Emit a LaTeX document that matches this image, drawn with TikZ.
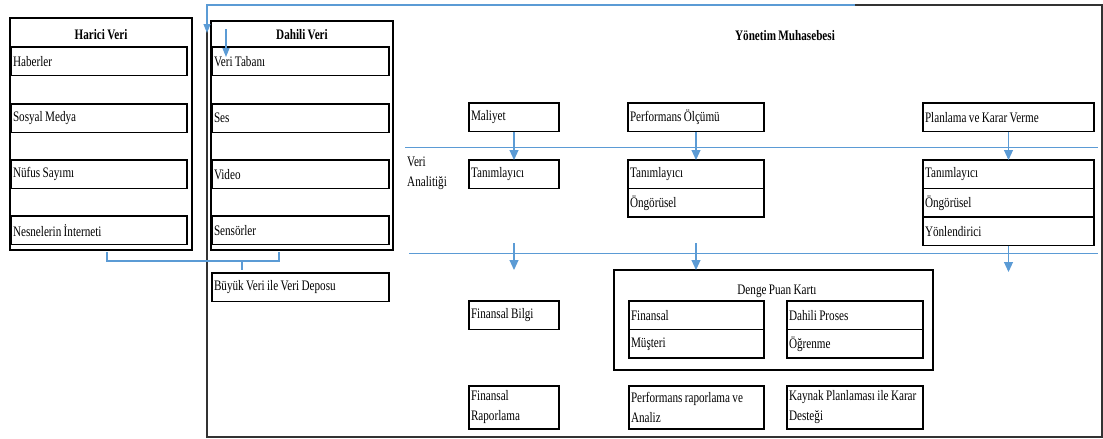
\documentclass[tikz,border=0pt]{standalone}
\usepackage{fontspec}
\setmainfont[FakeStretch=0.77,WordSpace=0.85]{Liberation Serif}
\usepackage{tikz}
\usetikzlibrary{arrows.meta,positioning}
\definecolor{linkblue}{HTML}{5B9BD5}

\begin{document}
\begin{tikzpicture}[x=1pt,y=-1pt,
  font=\fontsize{14.5}{20}\selectfont,
  cell/.style={draw,line width=1.6pt,anchor=north west,inner xsep=2pt,inner ysep=0pt,
    outer sep=0pt,text width=#1,minimum height=28.5pt,align=flush left},
  frame/.style 2 args={draw,line width=1.3pt,anchor=north west,inner sep=0pt,outer sep=0pt,
    minimum width=#1,minimum height=#2},
  title/.style={font=\fontsize{14.5}{20}\selectfont\bfseries},
  link/.style={color=linkblue,line width=1.1pt},
  tip/.style={-{Triangle[width=9pt,length=10pt]}}]
  \useasboundingbox (0,0) rectangle (1103,439);

  % outer frames
  \node[frame={895pt}{432pt},draw=black!80,line width=1.2pt] (ym)     at (207,5)  {};
  \node[frame={182pt}{232pt}]                               (harici) at (10,18)   {};
  \node[frame={182pt}{229pt}]                               (dahili) at (211,21)  {};
  \node[frame={319pt}{100pt}]                               (bsc)    at (614,270) {};

  % titles
  \node[title] (harici_t) at (101,35)  {Harici Veri};
  \node[title] (dahili_t) at (302,35)  {Dahili Veri};
  \node[title] (ym_t)     at (785,36)  {Yönetim Muhasebesi};
  \node        (bsc_t)    at (777,291) {Denge Puan Kartı};
  \node[anchor=north west,align=flush left,inner sep=0pt] (va) at (407,157) {Veri\\Analitiği};

  % data sources
  \node[cell=172pt] (h_1) at (11,47)  {Haberler};
  \node[cell=172pt] (h_2) at (11,104) {Sosyal Medya};
  \node[cell=172pt] (h_3) at (11,160) {Nüfus Sayımı};
  \node[cell=172pt] (h_4) at (11,216) {Nesnelerin İnterneti};
  \node[cell=173pt] (d_1) at (212,47)  {Veri Tabanı};
  \node[cell=173pt] (d_2) at (212,104) {Ses};
  \node[cell=173pt] (d_3) at (212,160) {Video};
  \node[cell=173pt] (d_4) at (212,216) {Sensörler};
  \node[cell=173pt] (depo) at (212,273) {Büyük Veri ile Veri Deposu};

  % management accounting
  \node[cell=86pt]  (mal)  at (469,103) {Maliyet};
  \node[cell=132pt] (perf) at (628,103) {Performans Ölçümü};
  \node[cell=167pt] (plan) at (923,103) {Planlama ve Karar Verme};
  \node[cell=86pt]  (t_1)  at (469,160) {Tanımlayıcı};
  \node[cell=132pt] (t_2)  at (628,160) {Tanımlayıcı};
  \node[cell=132pt] (o_2)  [below=0pt of t_2] {Öngörüsel};
  \node[cell=167pt] (t_3)  at (923,160) {Tanımlayıcı};
  \node[cell=167pt] (o_3)  [below=0pt of t_3] {Öngörüsel};
  \node[cell=167pt] (y_3)  [below=0pt of o_3] {Yönlendirici};

  \node[cell=86pt]  (fb)  at (469,301) {Finansal Bilgi};
  \node[cell=131pt] (b_1) at (629,301) {Finansal};
  \node[cell=131pt] (b_2) [below=0pt of b_1] {Müşteri};
  \node[cell=132pt] (b_3) at (787,301) {Dahili Proses};
  \node[cell=132pt] (b_4) [below=0pt of b_3] {Öğrenme};
  \node[cell=86pt,minimum height=43pt]  (fr) at (469,386) {Finansal\\Raporlama};
  \node[cell=131pt,minimum height=43pt] (pr) at (629,386) {Performans raporlama ve\\Analiz};
  \node[cell=132pt,minimum height=43pt] (kp) at (787,386) {Kaynak Planlaması ile Karar\\Desteği};

  % separators
  \draw[link,line width=0.8pt] (405,147) -- (1098,147);
  \draw[link,line width=0.8pt] (409,253) -- (1098,253);

  % connectors
  \coordinate (in_s) at (855,5);
  \coordinate (in_e) at (207,33);
  \coordinate (vt_s) at (226,29);
  \coordinate (vt_e) at (226,57);
  \coordinate (br_l) at (107,252);
  \coordinate (br_j) at (242,261);
  \coordinate (br_r) at (279,252);
  \coordinate (br_t) at (242,270);
  \coordinate (a_1)  at (514,243);
  \coordinate (e_1)  at (514,270);
  \coordinate (a_2)  at (696,243);
  \coordinate (e_2)  at (696,270);
  \coordinate (e_3)  at (1008.5,272);

  \draw[link,-{Triangle[width=7pt,length=9pt]}] (in_s) -- (ym.north west) -- (in_e);
  \draw[link,-{Triangle[width=7pt,length=9pt]}] (vt_s) -- (vt_e);
  \draw[link] (br_l) |- (br_j) -| (br_r);
  \draw[link] (br_j) -- (br_t);
  \path[link,tip]
  (mal) edge (t_1)
  (perf) edge (t_2)
  (plan) edge (t_3)
  (a_1) edge (e_1)
  (a_2) edge (e_2)
  (y_3) edge (e_3);
\end{tikzpicture}
\end{document}
